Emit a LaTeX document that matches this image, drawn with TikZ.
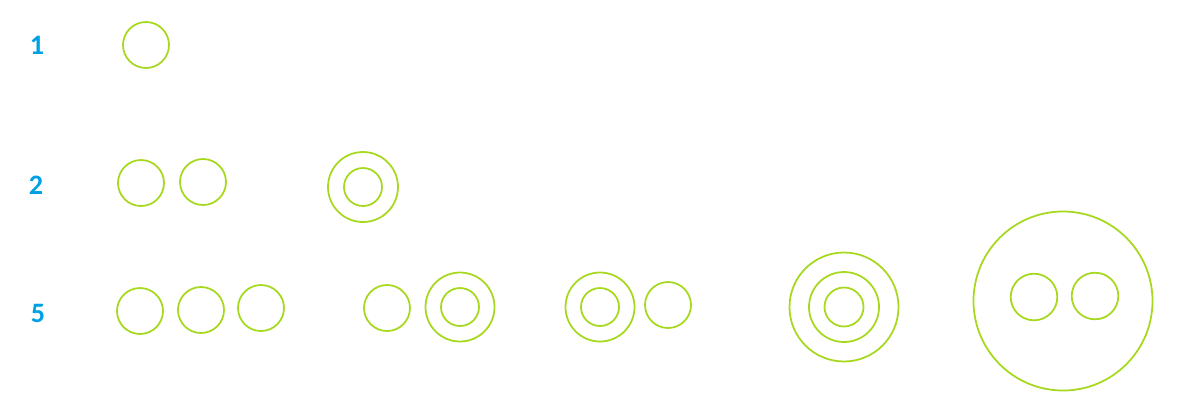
\documentclass[tikz,border=0pt]{standalone}
\usepackage{fontspec}
\setmainfont{Carlito}
\usepackage{xcolor}
\definecolor{ringgreen}{RGB}{166,216,30}
\definecolor{rowblue}{RGB}{0,160,228}
\begin{document}
\begin{tikzpicture}[x=0.02cm,y=-0.02cm,
  ring/.style={draw=ringgreen,line width=1pt},
  rowlabel/.style={text=rowblue,font=\fontsize{16}{18}\selectfont\bfseries}]
\useasboundingbox (0,0) rectangle (1200,414);
\node[rowlabel] (one) at (37,45) {1};
\node[rowlabel] (two) at (36,185) {2};
\node[rowlabel] (five) at (38,313) {5};

\draw[ring] (146,45) circle (23);

\draw[ring] (141,183) circle (23);
\draw[ring] (203,182) circle (23);
\draw[ring] (363,187) circle (35);
\draw[ring] (363,187) circle (19);

\draw[ring] (140,311) circle (23);
\draw[ring] (201,310) circle (23);
\draw[ring] (261,308) circle (23);
\draw[ring] (387,308) circle (23);
\draw[ring] (460,307) circle (34.5);
\draw[ring] (460,307) circle (19);
\draw[ring] (600,307) circle (34.5);
\draw[ring] (600,307) circle (19);
\draw[ring] (668,305) circle (23);
\draw[ring] (844,307) circle (54.5);
\draw[ring] (844,307) circle (35);
\draw[ring] (844,307) circle (19.5);
\draw[ring] (1063,301) circle (89.5);
\draw[ring] (1034,297) circle (23.3);
\draw[ring] (1095,296) circle (23.3);
\end{tikzpicture}
\end{document}
